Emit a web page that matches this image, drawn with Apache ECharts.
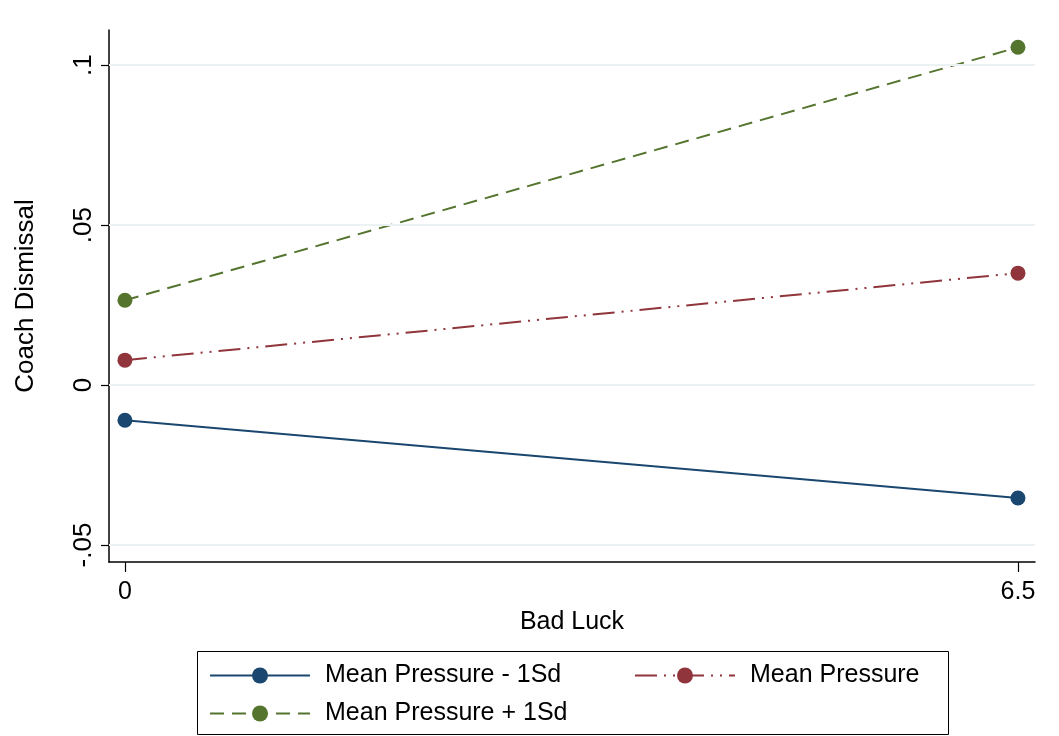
<!DOCTYPE html>
<html>
<head>
<meta charset="utf-8">
<script src="https://cdn.jsdelivr.net/npm/echarts@6/dist/echarts.min.js"></script>
<style>
  html, body { margin: 0; padding: 0; background: #fff; }
  #chart { width: 1059px; height: 736px; }
</style>
</head>
<body>
<div id="chart"></div>
<script>
  // data
  const badLuck = [0, 6.5];
  const pressureLow = [-0.0110, -0.0353];
  const pressureMean = [0.0078, 0.0350];
  const pressureHigh = [0.0265, 0.1056];
  const seriesNames = ['Mean Pressure - 1Sd', 'Mean Pressure', 'Mean Pressure + 1Sd'];
  const yTicks = [-0.05, 0, 0.05, 0.1];
  const yTickLabels = ['-.05', '0', '.05', '.1'];
  const xTicks = [0, 6.5];

  const font = 'Liberation Sans, Arial, sans-serif';
  const colors = ['#1a476f', '#90353b', '#55752f'];

  function pairs(ys) {
    return badLuck.map((x, i) => [x, ys[i]]);
  }

  function lineSeries(name, ys, color, dash) {
    return {
      name: name,
      type: 'line',
      data: pairs(ys),
      symbol: 'circle',
      symbolSize: 15,
      itemStyle: { color: color },
      lineStyle: { color: color, width: 2, type: dash },
      silent: true,
      z: 3
    };
  }

  let myChart = echarts.init(document.getElementById('chart'));
  myChart.setOption({
    backgroundColor: '#fff',
    animation: false,
    textStyle: { fontFamily: font },
    grid: { left: 109, right: 24, top: 30, bottom: 174 },
    xAxis: {
      type: 'value',
      min: -0.116,
      max: 6.624,
      name: 'Bad Luck',
      nameLocation: 'middle',
      nameGap: 46,
      nameTextStyle: { fontSize: 25, color: '#000', fontFamily: font },
      axisLine: { show: true, onZero: false, lineStyle: { color: '#000', width: 1.5 } },
      axisTick: { show: true, length: 10, customValues: xTicks, lineStyle: { color: '#000', width: 1.2 } },
      axisLabel: { customValues: xTicks, fontSize: 25, color: '#000', margin: 18, fontFamily: font,
        formatter: v => String(v) },
      splitLine: { show: false }
    },
    yAxis: {
      type: 'value',
      min: -0.0553,
      max: 0.111,
      name: 'Coach Dismissal',
      nameLocation: 'middle',
      nameGap: 70,
      nameRotate: 90,
      nameTextStyle: { fontSize: 26, color: '#000', fontFamily: font },
      axisLine: { show: true, onZero: false, lineStyle: { color: '#000', width: 1.5 } },
      axisTick: { show: true, length: 8, customValues: yTicks, lineStyle: { color: '#000', width: 1.2 } },
      axisLabel: { customValues: yTicks, rotate: 90, fontSize: 26, color: '#000', margin: 12, fontFamily: font,
        formatter: v => yTickLabels[yTicks.findIndex(t => Math.abs(t - v) < 1e-9)] },
      splitLine: { show: false }
    },
    legend: [
      { data: [seriesNames[0]], left: 209, top: 663 },
      { data: [seriesNames[1]], left: 634, top: 663 },
      { data: [seriesNames[2]], left: 209, top: 701 }
    ].map(l => Object.assign(l, {
      itemWidth: 100,
      itemHeight: 20,
      padding: 0,
      selectedMode: false,
      textStyle: { fontSize: 25, color: '#000', fontFamily: font, padding: [0, 0, 0, 10] }
    })),
    graphic: [{
      type: 'rect',
      shape: { x: 197.5, y: 651.5, width: 751, height: 83 },
      style: { fill: null, stroke: '#000', lineWidth: 1 },
      silent: true
    }],
    series: [
      lineSeries(seriesNames[0], pressureLow, colors[0], 'solid'),
      lineSeries(seriesNames[1], pressureMean, colors[1], [22, 7, 2, 7, 2, 7]),
      lineSeries(seriesNames[2], pressureHigh, colors[2], [14, 8]),
      {
        name: 'grid',
        type: 'line',
        data: [],
        silent: true,
        markLine: {
          symbol: 'none',
          silent: true,
          label: { show: false },
          lineStyle: { color: '#eaf2f3', type: 'solid', width: 2 },
          data: yTicks.map(v => ({ yAxis: v }))
        },
        z: 1
      }
    ]
  });
</script>
</body>
</html>
